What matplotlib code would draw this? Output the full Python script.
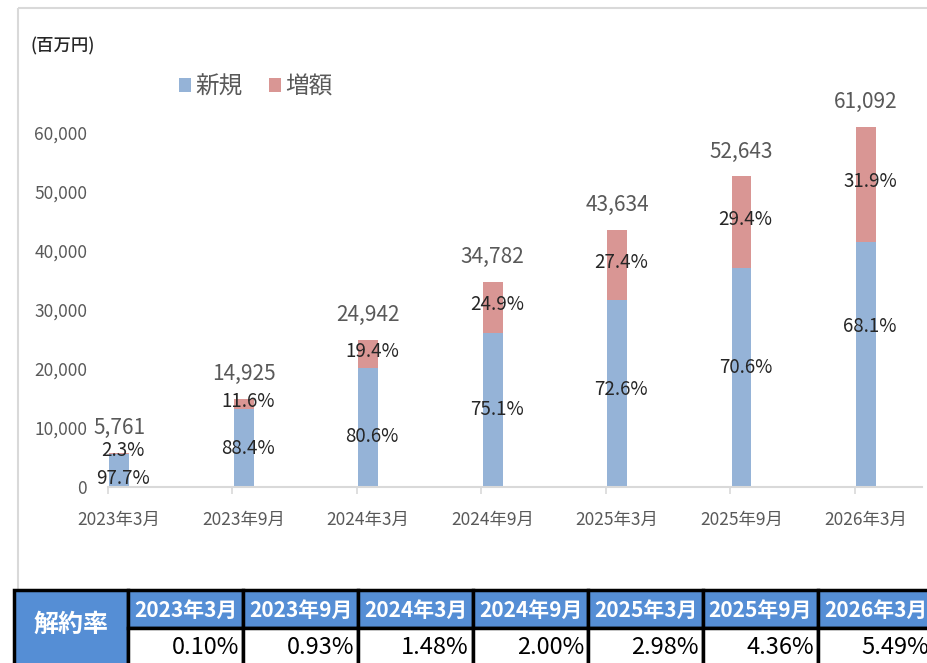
import matplotlib.pyplot as plt
from matplotlib.patches import Rectangle
from matplotlib.ticker import FuncFormatter
import numpy as np

# --- Data ---
periods = ["2023年3月", "2023年9月", "2024年3月", "2024年9月", "2025年3月", "2025年9月", "2026年3月"]
totals = np.array([5761, 14925, 24942, 34782, 43634, 52643, 61092])
pct_new = np.array([97.7, 88.4, 80.6, 75.1, 72.6, 70.6, 68.1])
pct_add = np.array([2.3, 11.6, 19.4, 24.9, 27.4, 29.4, 31.9])
churn = ["0.10%", "0.93%", "1.48%", "2.00%", "2.98%", "4.36%", "5.49%"]

new_vals = totals * pct_new / 100
add_vals = totals - new_vals

# --- Style ---
plt.rcParams["font.family"] = ["Noto Sans CJK JP", "DejaVu Sans"]
c_new = "#95B3D7"
c_add = "#D99694"
gray = "#595959"
dark = "#262626"
# manual label nudges (pixels, up positive) like the hand-placed Excel labels
nudge_new = [-8, 0, -9, 0, 4, 10, 38]

W, H = 928, 663
fig = plt.figure(figsize=(W / 100, H / 100), dpi=100)

# chart frame
frame = fig.add_axes([0, 0, 1, 1], zorder=-1)
frame.set_xlim(0, W)
frame.set_ylim(H, 0)
frame.axis("off")
frame.add_patch(Rectangle((18, 8), 930, 600, fill=False, ec="#D9D9D9", lw=1.5))

# --- Bar chart ---
ax_l, ax_r, ax_b, ax_t = 108, 922, 487, 74
ax = fig.add_axes([ax_l / W, 1 - ax_b / H, (ax_r - ax_l) / W, (ax_b - ax_t) / H])
x = np.arange(len(periods))
bw = 0.16
ax.bar(x, new_vals, bw, color=c_new, label="新規")
ax.bar(x, add_vals, bw, bottom=new_vals, color=c_add, label="増額")
ax.set_xlim(-0.08, 6.45)
ax.set_ylim(0, 70000)
ax.set_yticks(np.arange(0, 60001, 10000))
ax.yaxis.set_major_formatter(FuncFormatter(lambda v, p: f"{int(v):,}"))
ax.set_xticks(x)
ax.set_xticklabels(periods)
ax.set_xticks(x - 0.09, minor=True)
ax.tick_params(axis="y", length=0, pad=15, labelsize=12.5, labelcolor=gray)
ax.tick_params(axis="x", which="major", length=0, pad=17, labelsize=12.5, labelcolor=gray)
ax.tick_params(axis="x", which="minor", length=5, color="#D9D9D9", width=1.2)
for s in ["top", "right", "left"]:
    ax.spines[s].set_visible(False)
ax.spines["bottom"].set_color("#D9D9D9")
ax.spines["bottom"].set_linewidth(1.5)

for i in range(len(x)):
    ax.annotate(f"{totals[i]:,}", (x[i], totals[i]), xytext=(0, 10), textcoords="offset points",
                ha="center", va="bottom", fontsize=15, color=gray)
    ax.annotate(f"{pct_new[i]:.1f}%", (x[i], new_vals[i] / 2), xytext=(3, nudge_new[i] * 0.72),
                textcoords="offset points", ha="center", va="center", fontsize=13.5, color=dark)
    ax.annotate(f"{pct_add[i]:.1f}%", (x[i], new_vals[i] + add_vals[i] / 2), xytext=(3, 2),
                textcoords="offset points", ha="center", va="center", fontsize=13.5, color=dark)

leg = fig.legend(loc="center left", bbox_to_anchor=(158 / W, 1 - 87 / H), ncol=2, frameon=False,
                 fontsize=17, handlelength=0.5, handleheight=0.5, handletextpad=0.2,
                 columnspacing=1.1, labelcolor=gray)

fig.text(30 / W, 1 - 46 / H, "(百万円)", fontsize=12.5, color="#262626", ha="left", va="center",
         fontweight="medium")

# --- Churn rate table ---
tb = fig.add_axes([0, 0, 1, 1], zorder=5)
tb.set_xlim(0, W)
tb.set_ylim(H, 0)
tb.axis("off")
hdr = "#558ED5"
top, mid, bot = 590, 628, 675
x0, x1, cw = 14, 128, 115
tb.add_patch(Rectangle((x0, top), x1 - x0, bot - top, fc=hdr, ec="black", lw=2.5))
tb.text((x0 + x1) / 2, (top + H) / 2 - 2, "解約率", color="white", fontsize=18, fontweight="bold",
        ha="center", va="center")
for i, (p, v) in enumerate(zip(periods, churn)):
    cx = x1 + i * cw
    tb.add_patch(Rectangle((cx, top), cw, mid - top, fc=hdr, ec="black", lw=2.5))
    tb.add_patch(Rectangle((cx, mid), cw, bot - mid, fc="white", ec="black", lw=2.5))
    tb.text(cx + cw / 2, (top + mid) / 2 + 1, p, color="white", fontsize=15, fontweight="bold",
            ha="center", va="center")
    tb.text(cx + cw - 4, 647, v, color="black", fontsize=17, ha="right", va="center")

fig.savefig("out.png", dpi=100)
